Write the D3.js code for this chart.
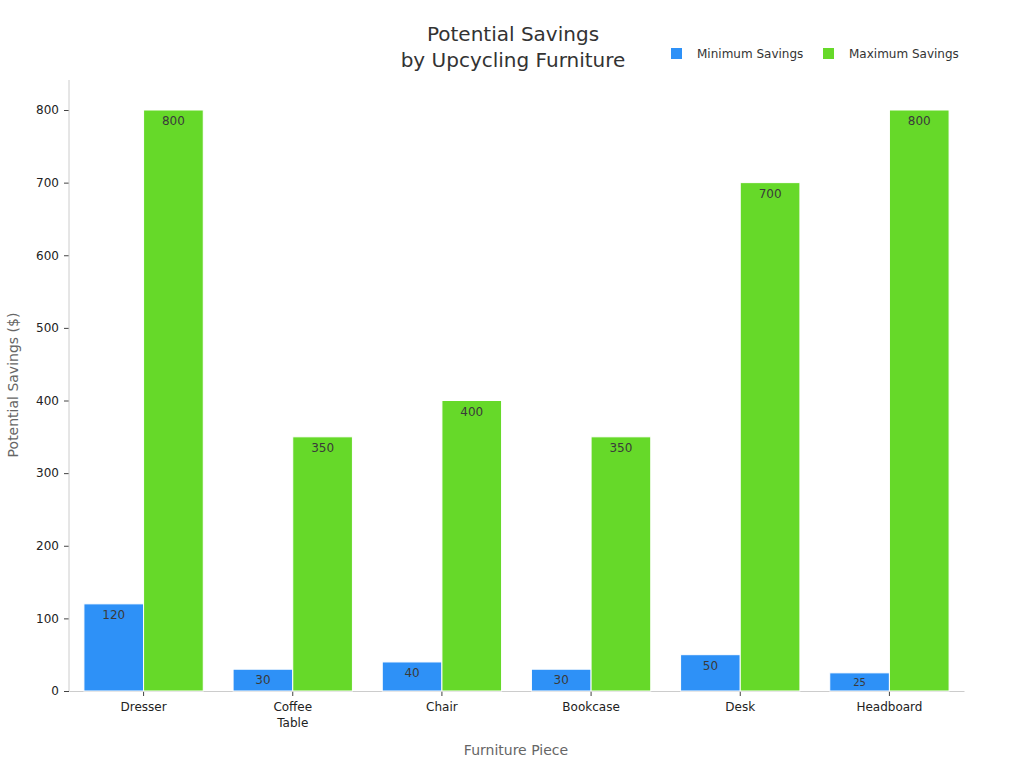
<!DOCTYPE html>
<html>
<head>
    <title>Potential Savings by Upcycling Furniture</title>
    <script src="https://d3js.org/d3.v7.min.js"></script>
    <style>
        body { margin: 0; background: #fff; }
        svg text { font-family: "DejaVu Sans", sans-serif; }
    </style>
</head>
<body>
    <svg width="1024" height="768"></svg>
    <script>
        // data
        var categories = ["Dresser", "Coffee Table", "Chair", "Bookcase", "Desk", "Headboard"];
        var seriesNames = ["Minimum Savings", "Maximum Savings"];
        var minSavings = [120, 30, 40, 30, 50, 25];
        var maxSavings = [800, 350, 400, 350, 700, 800];
        var yTicks = [0, 100, 200, 300, 400, 500, 600, 700, 800];
        var colors = ["#2e91f7", "#66d929"];

        var svg = d3.select("svg");
        var plotLeft = 69, plotRight = 964, plotTop = 80, plotBottom = 691;

        var x = d3.scaleBand().domain(categories).range([plotLeft, plotRight])
            .paddingInner(0.2).paddingOuter(0.1);
        var x1 = d3.scaleBand().domain(seriesNames).range([0, x.bandwidth()]);
        var y = d3.scaleLinear().domain([0, 800]).range([plotBottom, 110]);

        // axes
        var yAxis = svg.append("g")
            .attr("transform", "translate(" + plotLeft + ",0)")
            .call(d3.axisLeft(y).tickValues(yTicks).tickSize(5).tickSizeOuter(0));
        yAxis.select(".domain").remove();
        yAxis.selectAll(".tick line").attr("stroke", "#444");
        yAxis.selectAll(".tick text").attr("font-size", 12).attr("fill", "#222").attr("dx", "-2");
        svg.append("line").attr("x1", plotLeft).attr("x2", plotLeft)
            .attr("y1", plotTop).attr("y2", plotBottom)
            .attr("stroke", "#ccc");

        var xAxis = svg.append("g")
            .attr("transform", "translate(0," + plotBottom + ")")
            .call(d3.axisBottom(x).tickSize(5).tickSizeOuter(0));
        xAxis.select(".domain").attr("stroke", "#ccc");
        xAxis.selectAll(".tick line").attr("stroke", "#444");
        xAxis.selectAll(".tick text").attr("font-size", 12).attr("fill", "#222")
            .each(function(d) {
                var t = d3.select(this);
                var words = d.split(" ");
                if (words.length > 1) {
                    t.text(null);
                    words.forEach(function(w, i) {
                        t.append("tspan").attr("x", 0).attr("dy", i === 0 ? "0.71em" : "1.35em").text(w);
                    });
                    t.attr("dy", null);
                }
            });
        xAxis.selectAll(".tick text").attr("y", 11);

        // bars
        var groups = svg.append("g").selectAll("g")
            .data(categories)
            .enter().append("g")
            .attr("transform", function(d) { return "translate(" + x(d) + ",0)"; });

        var bars = groups.selectAll("g")
            .data(function(d, i) {
                return [
                    { s: seriesNames[0], v: minSavings[i], c: 0 },
                    { s: seriesNames[1], v: maxSavings[i], c: 1 }
                ];
            })
            .enter().append("g");

        bars.append("rect")
            .attr("x", function(d) { return x1(d.s); })
            .attr("y", function(d) { return y(d.v); })
            .attr("width", x1.bandwidth())
            .attr("height", function(d) { return y(0) - y(d.v); })
            .attr("fill", function(d) { return colors[d.c]; })
            .attr("stroke", "#fff")
            .attr("stroke-width", 1);

        // small bars get a smaller, centred label
        bars.append("text")
            .attr("x", function(d) { return x1(d.s) + x1.bandwidth() / 2; })
            .attr("y", function(d) {
                var h = y(0) - y(d.v);
                return h < 20 ? y(d.v) + h / 2 + 4 : y(d.v) + 15;
            })
            .attr("text-anchor", "middle")
            .attr("font-size", function(d) { return y(0) - y(d.v) < 20 ? 10 : 12; })
            .attr("fill", "#3a3a3a")
            .text(function(d) { return d.v; });

        // title
        svg.append("text").attr("x", 513).attr("y", 41).attr("text-anchor", "middle")
            .attr("font-size", 20).attr("fill", "#333").text("Potential Savings");
        svg.append("text").attr("x", 513).attr("y", 67).attr("text-anchor", "middle")
            .attr("font-size", 20).attr("fill", "#333").text("by Upcycling Furniture");

        // axis titles
        svg.append("text").attr("x", 516).attr("y", 755).attr("text-anchor", "middle")
            .attr("font-size", 14).attr("fill", "#666").text("Furniture Piece");
        svg.append("text").attr("transform", "translate(18,385) rotate(-90)")
            .attr("text-anchor", "middle")
            .attr("font-size", 14).attr("fill", "#666").text("Potential Savings ($)");

        // legend
        var legendX = [671, 823];
        var legend = svg.append("g").selectAll("g")
            .data(seriesNames)
            .enter().append("g")
            .attr("transform", function(d, i) { return "translate(" + legendX[i] + ",48)"; });
        legend.append("rect").attr("width", 11).attr("height", 11)
            .attr("fill", function(d, i) { return colors[i]; });
        legend.append("text").attr("x", 26).attr("y", 10)
            .attr("font-size", 12).attr("fill", "#333").text(function(d) { return d; });
    </script>
</body>
</html>
